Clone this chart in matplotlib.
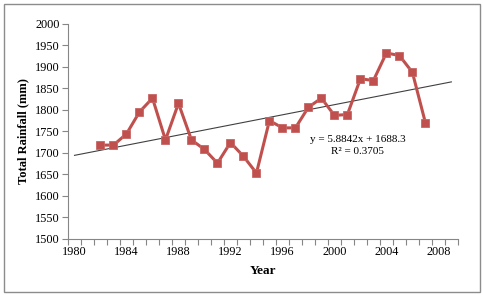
import numpy as np
import matplotlib
matplotlib.use('Agg')
import matplotlib.pyplot as plt
from matplotlib.patches import Rectangle

years = list(range(1982, 2008))
rainfall = [1718, 1718, 1744, 1795, 1827, 1730, 1815, 1730, 1708, 1676,
            1724, 1692, 1653, 1775, 1758, 1758, 1806, 1827, 1787, 1789,
            1872, 1868, 1932, 1926, 1887, 1770]
slope = 5.8842
intercept = 1688.3
r2 = 0.3705

plt.rcParams['font.family'] = ['Liberation Serif', 'DejaVu Serif']

fig = plt.figure(figsize=(4.83, 2.95), dpi=100)
ax = fig.add_axes([0.1408, 0.19, 0.8072, 0.7297])

# trend line (x index starts at 1 for 1980)
trend_x = np.array([1980, 2009])
trend_y = slope * (trend_x - 1979) + intercept
ax.plot(trend_x, trend_y, color='#404040', lw=0.8)

ax.plot(years, rainfall, color='#C0504D', lw=2.2, marker='s', ms=6.3,
        markerfacecolor='#C0504D', markeredgecolor='#C86664', markeredgewidth=0.6)

ax.text(2001.8, 1731, f'y = {slope}x + {intercept}', ha='center', va='center', fontsize=8)
ax.text(2001.8, 1703, f'R\u00b2 = {r2}', ha='center', va='center', fontsize=8)

ax.set_xlim(1979.5, 2009.5)
ax.set_ylim(1500, 2000)
ax.set_yticks(range(1500, 2001, 50))
ax.set_xticks(np.arange(1979.5, 2010, 1))
ax.set_xticklabels([])
ax.set_xticks(range(1980, 2009, 4), minor=True)
ax.set_xticklabels([str(y) for y in range(1980, 2009, 4)], minor=True)
ax.tick_params(axis='x', which='minor', length=0, labelsize=8.8, pad=5)
ax.tick_params(axis='x', which='major', length=4, color='#868686', width=0.8)
ax.tick_params(axis='y', length=4, color='#868686', width=0.8, labelsize=8.8, pad=2)

for s in ['top', 'right']:
    ax.spines[s].set_visible(False)
for s in ['left', 'bottom']:
    ax.spines[s].set_color('#868686')
    ax.spines[s].set_linewidth(0.8)

ax.set_xlabel('Year', fontsize=9.5, fontweight='bold', labelpad=5)
ax.set_ylabel('Total Rainfall (mm)', fontsize=9, fontweight='bold', labelpad=4)

fig.patches.append(Rectangle((0.008, 0.01), 0.985, 0.975, transform=fig.transFigure,
                             fill=False, edgecolor='#8c8c8c', lw=1.0))

plt.savefig('out.png', dpi=100)
